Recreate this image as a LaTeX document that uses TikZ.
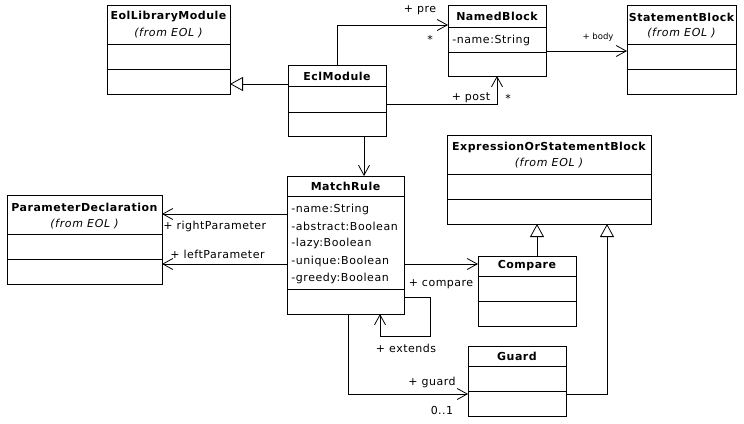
\documentclass[tikz,border=0pt]{standalone}
\usepackage{fontspec}
\setmainfont{DejaVu Sans}
\usetikzlibrary{arrows.meta,fit}
\begin{document}
\begin{tikzpicture}[x=1pt,y=-1pt,
  line width=0.8pt,
  cls/.style={draw, inner sep=0pt, outer sep=0pt},
  title/.style={font=\fontsize{11}{13}\selectfont\bfseries\addfontfeatures{LetterSpace=4.5}, inner sep=0pt},
  from/.style={font=\fontsize{11}{13}\selectfont\itshape\addfontfeatures{LetterSpace=6}, inner sep=0pt},
  attr/.style={font=\fontsize{11}{13}\selectfont\addfontfeatures{LetterSpace=5}, inner sep=0pt, anchor=west},
  lbl/.style={font=\fontsize{11}{13}\selectfont\addfontfeatures{LetterSpace=4.5}, inner sep=0pt},
  small/.style={font=\fontsize{8.5}{10}\selectfont, inner sep=0pt},
  assoc/.style={-{Straight Barb[length=10pt,width=11pt,line width=0.8pt]}},
  gen/.style={-{Triangle[open,length=13pt,width=14pt,fill=white,line width=0.8pt]}}]
\useasboundingbox (0,0) rectangle (744,423);
% classes
\node[cls, fit={(107,5) (230,94)}] (eol) {};
\node[cls, fit={(288,65) (386,136)}] (ecl) {};
\node[cls, fit={(448,5) (546,76)}] (named) {};
\node[cls, fit={(627,5) (736,94)}] (stmt) {};
\node[cls, fit={(447,135) (651,224)}] (expr) {};
\node[cls, fit={(287,176) (404,314)}] (match) {};
\node[cls, fit={(7,195) (162,284)}] (param) {};
\node[cls, fit={(478,256) (576,326)}] (compare) {};
\node[cls, fit={(468,346) (566,416)}] (guard) {};
% separators
\foreach \n/\a/\b in {eol/44/69, ecl/86/112, named/27/52, stmt/44/69, expr/174/199,
  match/196/289, param/234/259, compare/276/301, guard/366/391}{
  \draw (\n.west |- 0,\a) -- (\n.east |- 0,\a);
  \draw (\n.west |- 0,\b) -- (\n.east |- 0,\b);
}
% texts
\node[title] (eolT) at (168.5,17) {EolLibraryModule};
\node[from] (eolF) at (168.5,33) {(from EOL )};
\node[title] (eclT) at (337,76) {EclModule};
\node[title] (namedT) at (497,16) {NamedBlock};
\node[attr] (namedA) at (452,40) {-name:String};
\node[title] (stmtT) at (681.5,17) {StatementBlock};
\node[from] (stmtF) at (681.5,33) {(from EOL )};
\node[title] (exprT) at (549,147) {ExpressionOrStatementBlock};
\node[from] (exprF) at (549,163) {(from EOL )};
\node[title] (matchT) at (345.5,186) {MatchRule};
\node[attr] (m1) at (291,209) {-name:String};
\node[attr] (m2) at (291,226.5) {-abstract:Boolean};
\node[attr] (m3) at (291,243.5) {-lazy:Boolean};
\node[attr] (m4) at (291,261) {-unique:Boolean};
\node[attr] (m5) at (291,278) {-greedy:Boolean};
\node[title] (paramT) at (84.5,207) {ParameterDeclaration};
\node[from] (paramF) at (84.5,224) {(from EOL )};
\node[title] (compareT) at (527,266) {Compare};
\node[title] (guardT) at (517,356) {Guard};
% connectors
\draw[gen] (ecl.west |- 0,84) -- (eol.east |- 0,84);
\draw[assoc] (ecl.north -| 337,0) |- (named.west |- 0,25);
\draw[assoc] (ecl.east |- 0,104) -| (named.south -| 497,0);
\draw[assoc] (named.east |- 0,51) -- (stmt.west |- 0,51);
\draw[assoc] (ecl.south -| 364,0) -- (match.north -| 364,0);
\draw[assoc] (match.west |- 0,214) -- (param.east |- 0,214);
\draw[assoc] (match.west |- 0,264) -- (param.east |- 0,264);
\draw[assoc] (match.east |- 0,264) -- (compare.west |- 0,264);
\draw[assoc] (match.east |- 0,297) -| (430,336) -| (match.south -| 380,0);
\draw[assoc] (match.south -| 348,0) |- (guard.west |- 0,394);
\draw[gen] (compare.north -| 537,0) -- (expr.south -| 537,0);
\draw[gen] (guard.east |- 0,394) -| (expr.south -| 607,0);
% labels
\node[lbl] (lpre) at (420,10) {+ pre};
\node[lbl] (spre) at (430,39) {*};
\node[lbl] (lpost) at (471,98) {+ post};
\node[lbl] (spost) at (508,98) {*};
\node[small] (lbody) at (598,37) {+ body};
\node[lbl, anchor=west] (lright) at (163,226) {+ rightParameter};
\node[lbl, anchor=west] (lleft) at (170,254) {+ leftParameter};
\node[lbl] (lcomp) at (441,284) {+ compare};
\node[lbl] (lext) at (406,348) {+ extends};
\node[lbl] (lguard) at (432,382) {+ guard};
\node[lbl] (lmult) at (442,410) {0..1};
\end{tikzpicture}
\end{document}
